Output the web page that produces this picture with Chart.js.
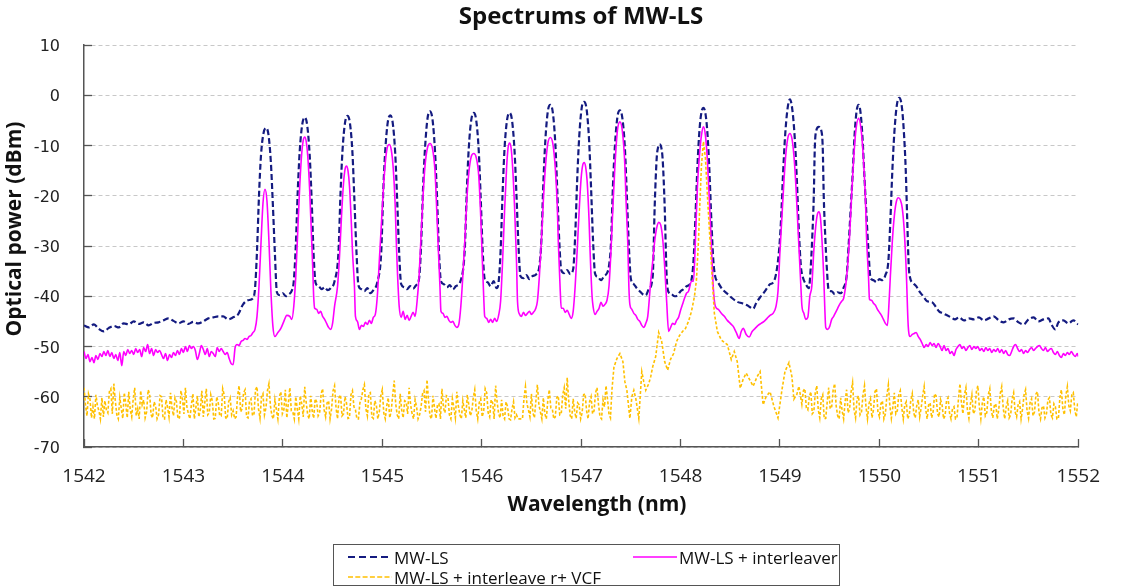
<!DOCTYPE html>
<html>
<head>
<meta charset="utf-8">
<title>Spectrums of MW-LS</title>
<script src="https://cdn.jsdelivr.net/npm/chart.js@4.4.1/dist/chart.umd.min.js"></script>
<style>
  body { margin: 0; background: #fff; }
  #wrap { position: relative; width: 1126px; height: 588px; }
  #legend {
    position: absolute; left: 333px; top: 544px; width: 505px; height: 40px;
    border: 1px solid #555; font-family: "Open Sans", sans-serif; font-size: 17px; color: #111;
  }
  .item { position: absolute; height: 20px; display: flex; align-items: center; white-space: nowrap; }
  .item svg { margin-right: 2px; }
</style>
</head>
<body>
<div id="wrap">
  <canvas id="chart" width="1126" height="588"></canvas>
  <div id="legend"></div>
</div>
<script>
// wavelength (nm), power (dBm)
const mwls = [
  [1542.00,-45.8],[1542.05,-46.2],[1542.10,-45.6],[1542.15,-46.5],[1542.20,-47.0],[1542.25,-46.3],[1542.30,-45.9],
  [1542.35,-46.2],[1542.40,-45.4],[1542.45,-45.6],[1542.50,-45.0],[1542.55,-45.5],[1542.60,-45.2],[1542.65,-45.8],
  [1542.70,-45.3],[1542.75,-45.2],[1542.80,-44.8],[1542.85,-44.4],[1542.90,-44.9],[1542.95,-45.4],[1543.00,-45.0],
  [1543.05,-45.5],[1543.10,-45.1],[1543.15,-45.4],[1543.20,-45.0],[1543.25,-44.4],[1543.30,-44.2],[1543.35,-44.0],
  [1543.40,-44.0],[1543.45,-44.6],[1543.50,-44.2],[1543.55,-43.6],[1543.60,-41.6],[1543.65,-40.8],[1543.70,-40.4],
  [1543.72,-38.5],
  [1543.74,-31.0],[1543.76,-20.0],[1543.78,-12.0],[1543.805,-7.6],[1543.83,-6.5],[1543.855,-7.8],[1543.88,-13.5],
  [1543.90,-22.0],[1543.92,-31.5],[1543.94,-39.2],
  [1543.97,-39.8],[1544.00,-39.4],[1544.03,-40.0],[1544.06,-39.6],[1544.09,-38.9],[1544.11,-37.0],
  [1544.13,-30.0],[1544.15,-19.0],[1544.17,-11.0],[1544.195,-5.8],[1544.22,-4.4],[1544.245,-6.0],[1544.27,-12.0],
  [1544.29,-21.0],[1544.31,-32.0],[1544.33,-37.4],
  [1544.36,-38.0],[1544.39,-38.6],[1544.42,-38.2],[1544.45,-38.8],[1544.48,-38.4],[1544.52,-37.0],
  [1544.56,-31.0],[1544.58,-19.5],[1544.60,-11.0],[1544.625,-5.5],[1544.65,-4.1],[1544.675,-5.6],[1544.70,-11.5],
  [1544.72,-21.0],[1544.74,-31.0],[1544.76,-37.8],
  [1544.79,-38.6],[1544.82,-39.0],[1544.85,-38.4],[1544.88,-39.4],[1544.91,-38.8],[1544.95,-37.2],
  [1544.99,-31.0],[1545.01,-19.0],[1545.03,-11.0],[1545.055,-5.4],[1545.08,-4.0],[1545.105,-5.5],[1545.13,-11.5],
  [1545.15,-21.0],[1545.17,-31.5],[1545.19,-37.6],
  [1545.22,-38.2],[1545.25,-38.6],[1545.28,-38.0],[1545.31,-38.5],[1545.34,-37.8],[1545.37,-36.5],
  [1545.39,-30.0],[1545.41,-18.5],[1545.43,-10.5],[1545.455,-4.6],[1545.48,-3.2],[1545.505,-4.8],[1545.53,-11.0],
  [1545.55,-20.0],[1545.57,-31.0],[1545.59,-37.0],
  [1545.62,-37.6],[1545.65,-38.2],[1545.68,-37.8],[1545.71,-38.6],[1545.74,-38.0],[1545.79,-36.8],
  [1545.83,-30.5],[1545.85,-19.0],[1545.87,-10.5],[1545.895,-4.9],[1545.92,-3.5],[1545.945,-5.0],[1545.97,-11.0],
  [1545.99,-20.5],[1546.01,-31.0],[1546.03,-36.6],
  [1546.06,-37.2],[1546.09,-38.0],[1546.12,-37.0],[1546.15,-38.4],[1546.17,-37.2],
  [1546.19,-31.0],[1546.21,-19.5],[1546.23,-10.5],[1546.255,-4.9],[1546.28,-3.5],[1546.305,-5.0],[1546.33,-11.0],
  [1546.35,-20.0],[1546.37,-30.0],[1546.39,-36.0],
  [1546.42,-36.4],[1546.45,-35.8],[1546.48,-36.6],[1546.51,-36.0],[1546.55,-35.6],[1546.58,-34.0],
  [1546.60,-29.0],[1546.62,-17.5],[1546.64,-9.0],[1546.665,-3.2],[1546.69,-1.9],[1546.715,-3.4],[1546.74,-9.5],
  [1546.76,-19.0],[1546.78,-29.0],[1546.80,-34.8],
  [1546.83,-35.4],[1546.86,-34.8],[1546.89,-35.6],[1546.92,-34.6],
  [1546.94,-28.0],[1546.96,-17.0],[1546.98,-8.5],[1547.005,-2.6],[1547.03,-1.3],[1547.055,-2.8],[1547.08,-9.0],
  [1547.10,-18.5],[1547.12,-29.0],[1547.14,-35.5],
  [1547.17,-36.2],[1547.20,-36.8],[1547.23,-36.0],[1547.26,-35.4],[1547.28,-34.0],
  [1547.30,-29.5],[1547.32,-18.0],[1547.34,-10.0],[1547.365,-4.3],[1547.39,-3.0],[1547.415,-4.6],[1547.44,-10.5],
  [1547.46,-20.0],[1547.48,-30.0],[1547.50,-36.5],
  [1547.53,-37.6],[1547.56,-38.4],[1547.59,-39.0],[1547.62,-39.6],[1547.65,-39.8],[1547.68,-38.6],
  [1547.72,-36.0],[1547.74,-22.0],[1547.76,-12.5],[1547.775,-10.3],[1547.79,-9.75],[1547.805,-10.3],[1547.82,-12.8],
  [1547.84,-22.0],[1547.86,-36.0],[1547.88,-39.2],
  [1547.91,-39.6],[1547.94,-40.0],[1547.97,-39.8],[1548.00,-39.0],[1548.03,-38.6],[1548.06,-38.0],[1548.10,-37.4],
  [1548.13,-33.0],[1548.15,-24.0],[1548.17,-14.0],[1548.19,-7.0],[1548.21,-3.4],[1548.23,-2.5],[1548.25,-3.6],
  [1548.27,-7.5],[1548.29,-15.0],[1548.31,-25.0],[1548.33,-33.0],[1548.35,-36.2],
  [1548.37,-37.0],[1548.42,-38.6],[1548.47,-39.5],[1548.52,-40.4],[1548.57,-41.1],[1548.62,-41.4],[1548.67,-41.8],
  [1548.70,-42.2],[1548.73,-42.5],[1548.76,-41.4],[1548.80,-40.2],[1548.83,-39.5],[1548.87,-38.4],[1548.90,-37.6],
  [1548.93,-37.3],[1548.96,-35.6],
  [1548.99,-31.0],[1549.01,-25.0],[1549.03,-16.0],[1549.05,-8.5],[1549.075,-2.8],[1549.10,-0.8],[1549.125,-3.0],
  [1549.15,-9.0],[1549.17,-17.0],[1549.19,-27.0],[1549.21,-34.0],[1549.23,-36.2],
  [1549.26,-37.6],[1549.29,-38.4],
  [1549.31,-34.0],[1549.325,-28.0],[1549.34,-20.0],[1549.35,-10.5],[1549.365,-7.0],[1549.39,-6.3],[1549.415,-7.0],
  [1549.43,-10.5],[1549.44,-20.0],[1549.455,-28.0],[1549.47,-34.0],[1549.49,-38.8],
  [1549.52,-39.0],[1549.55,-39.6],[1549.58,-39.2],[1549.61,-39.4],[1549.64,-38.3],
  [1549.67,-36.0],[1549.69,-30.0],[1549.71,-23.0],[1549.73,-16.0],[1549.75,-8.0],[1549.77,-3.2],[1549.79,-1.9],
  [1549.81,-3.4],[1549.83,-8.5],[1549.85,-16.5],[1549.87,-24.0],[1549.89,-31.0],[1549.91,-36.3],
  [1549.94,-36.8],[1549.97,-37.2],[1550.00,-36.6],[1550.03,-36.8],[1550.06,-35.8],
  [1550.09,-33.0],[1550.11,-25.0],[1550.13,-15.0],[1550.15,-7.5],[1550.175,-2.0],[1550.20,-0.5],[1550.225,-2.2],
  [1550.245,-7.0],[1550.265,-15.0],[1550.28,-25.0],[1550.295,-34.0],[1550.31,-36.4],
  [1550.34,-37.4],[1550.37,-38.0],[1550.40,-39.0],[1550.44,-40.0],[1550.48,-41.0],[1550.53,-41.2],[1550.57,-42.2],
  [1550.60,-43.0],[1550.64,-43.4],[1550.68,-43.8],[1550.72,-44.2],[1550.76,-44.6],[1550.80,-44.2],[1550.85,-44.8],
  [1550.90,-44.4],[1550.95,-44.6],[1551.00,-44.2],[1551.05,-44.8],[1551.10,-44.4],[1551.15,-44.0],[1551.20,-44.8],
  [1551.25,-45.2],[1551.30,-44.6],[1551.35,-44.4],[1551.40,-45.2],[1551.45,-45.6],[1551.50,-44.6],[1551.55,-44.2],
  [1551.60,-45.0],[1551.65,-44.6],[1551.70,-44.4],[1551.73,-45.6],[1551.77,-46.6],[1551.80,-45.2],[1551.85,-44.8],
  [1551.90,-45.4],[1551.95,-44.8],[1552.00,-45.6]
];

const mwlsIl = [
  [1542.00,-51.0],[1542.02,-52.4],[1542.04,-51.6],[1542.06,-53.0],[1542.08,-52.2],[1542.10,-53.2],[1542.12,-51.8],
  [1542.14,-52.6],[1542.16,-51.4],[1542.18,-52.0],[1542.20,-51.0],[1542.22,-51.8],[1542.24,-50.8],[1542.26,-52.0],
  [1542.28,-51.2],[1542.30,-52.4],[1542.32,-51.6],[1542.34,-52.8],[1542.36,-51.2],[1542.38,-53.8],[1542.40,-51.0],
  [1542.42,-51.8],[1542.44,-50.6],[1542.46,-51.4],[1542.48,-50.8],[1542.50,-51.6],[1542.52,-50.4],[1542.54,-51.2],
  [1542.56,-50.6],[1542.58,-52.0],[1542.60,-50.2],[1542.62,-51.0],[1542.64,-49.6],[1542.66,-51.4],[1542.68,-50.4],
  [1542.70,-51.8],[1542.72,-50.6],[1542.74,-51.2],[1542.76,-50.8],[1542.78,-51.6],[1542.80,-52.4],[1542.82,-51.4],
  [1542.84,-52.8],[1542.86,-51.6],[1542.88,-52.2],[1542.90,-51.2],[1542.92,-51.8],[1542.94,-50.8],[1542.96,-51.6],
  [1542.98,-50.4],[1543.00,-51.2],[1543.02,-50.0],[1543.04,-51.0],[1543.06,-49.8],[1543.08,-50.4],[1543.10,-50.0],
  [1543.12,-50.8],[1543.14,-52.6],[1543.16,-51.4],[1543.18,-49.8],[1543.20,-50.6],[1543.22,-51.6],[1543.24,-50.4],
  [1543.26,-52.0],[1543.28,-51.0],[1543.30,-51.4],[1543.32,-52.0],[1543.34,-50.2],[1543.36,-51.0],[1543.38,-50.4],
  [1543.40,-51.0],[1543.42,-51.6],[1543.44,-51.2],[1543.46,-52.4],[1543.48,-53.4],[1543.50,-53.6],[1543.52,-50.2],
  [1543.54,-49.6],[1543.56,-49.8],[1543.58,-49.0],[1543.60,-48.8],[1543.62,-48.4],[1543.64,-48.6],[1543.66,-48.0],
  [1543.68,-47.8],[1543.70,-47.2],[1543.72,-46.6],
  [1543.74,-44.0],[1543.76,-38.0],[1543.78,-29.5],[1543.80,-21.5],[1543.82,-18.7],[1543.84,-21.0],[1543.86,-29.0],
  [1543.88,-39.0],[1543.90,-46.0],[1543.92,-48.0],
  [1543.95,-47.2],[1543.98,-46.4],[1544.01,-45.0],[1544.04,-43.8],[1544.07,-44.0],[1544.09,-44.6],[1544.11,-42.0],
  [1544.13,-36.0],[1544.15,-27.0],[1544.17,-18.0],[1544.19,-11.5],[1544.205,-9.0],[1544.22,-8.3],[1544.235,-9.2],
  [1544.25,-12.0],[1544.27,-19.0],[1544.29,-29.0],[1544.30,-34.0],[1544.31,-40.0],[1544.32,-42.4],
  [1544.34,-42.6],[1544.36,-43.4],[1544.38,-43.0],[1544.40,-44.0],[1544.42,-44.6],[1544.44,-45.4],[1544.46,-46.2],
  [1544.48,-46.6],[1544.50,-45.4],[1544.52,-42.0],
  [1544.55,-38.0],[1544.57,-32.0],[1544.59,-24.0],[1544.61,-17.5],[1544.625,-14.8],[1544.64,-14.1],[1544.655,-15.0],
  [1544.67,-18.0],[1544.69,-26.0],[1544.70,-31.0],[1544.72,-38.0],[1544.73,-44.0],
  [1544.75,-45.0],[1544.77,-46.6],[1544.79,-45.8],[1544.81,-46.0],[1544.83,-45.2],[1544.85,-45.6],[1544.87,-44.8],
  [1544.89,-45.4],[1544.91,-44.2],[1544.93,-43.6],[1544.95,-40.0],
  [1544.97,-33.0],[1544.99,-26.0],[1545.01,-19.0],[1545.03,-13.5],[1545.05,-10.4],[1545.07,-9.8],[1545.09,-10.8],
  [1545.11,-14.5],[1545.13,-22.0],[1545.14,-28.5],[1545.15,-34.0],[1545.17,-42.0],
  [1545.19,-44.2],[1545.21,-43.0],[1545.23,-44.6],[1545.25,-43.8],[1545.27,-44.8],[1545.29,-44.0],[1545.31,-43.2],
  [1545.33,-44.0],[1545.35,-41.0],
  [1545.37,-36.0],[1545.39,-28.0],[1545.41,-20.0],[1545.43,-14.0],[1545.455,-10.4],[1545.48,-9.6],[1545.505,-10.6],
  [1545.53,-15.0],[1545.55,-24.0],[1545.56,-29.0],[1545.58,-38.0],[1545.59,-43.0],
  [1545.61,-43.4],[1545.63,-44.2],[1545.65,-44.0],[1545.67,-44.8],[1545.69,-45.2],[1545.71,-45.0],[1545.73,-45.8],
  [1545.75,-46.2],[1545.77,-45.6],[1545.79,-42.0],
  [1545.81,-36.0],[1545.83,-29.0],[1545.85,-21.0],[1545.87,-15.5],[1545.895,-12.2],[1545.92,-11.6],[1545.945,-12.4],
  [1545.97,-16.0],[1545.99,-24.0],[1546.00,-29.5],[1546.02,-40.0],[1546.03,-44.0],
  [1546.05,-44.4],[1546.07,-45.2],[1546.09,-44.6],[1546.11,-45.2],[1546.13,-44.4],[1546.15,-45.0],[1546.17,-43.8],
  [1546.19,-41.0],
  [1546.21,-33.0],[1546.23,-23.0],[1546.25,-14.5],[1546.265,-10.5],[1546.28,-9.5],[1546.295,-10.4],[1546.31,-14.0],
  [1546.33,-22.0],[1546.35,-33.0],[1546.36,-41.0],
  [1546.38,-43.6],[1546.40,-44.0],[1546.42,-43.2],[1546.44,-43.8],[1546.46,-43.4],[1546.48,-43.0],[1546.50,-43.6],
  [1546.52,-43.2],[1546.54,-42.6],[1546.56,-41.0],
  [1546.58,-36.0],[1546.60,-29.0],[1546.62,-21.0],[1546.64,-14.5],[1546.665,-9.6],[1546.69,-8.4],[1546.715,-9.6],
  [1546.74,-14.5],[1546.76,-22.0],[1546.77,-29.0],[1546.79,-39.0],[1546.80,-42.4],
  [1546.82,-42.4],[1546.84,-43.2],[1546.86,-42.8],[1546.88,-43.6],[1546.90,-44.4],[1546.92,-43.0],[1546.94,-38.0],
  [1546.96,-31.0],[1546.98,-23.0],[1547.00,-16.5],[1547.015,-14.0],[1547.03,-13.4],[1547.045,-14.2],[1547.06,-17.0],
  [1547.08,-25.0],[1547.09,-31.0],[1547.11,-40.0],[1547.12,-42.0],
  [1547.14,-43.6],[1547.16,-43.0],[1547.18,-42.4],[1547.20,-41.2],[1547.22,-42.0],[1547.24,-41.6],[1547.26,-40.8],
  [1547.28,-38.0],
  [1547.30,-31.0],[1547.32,-22.0],[1547.34,-14.0],[1547.365,-7.0],[1547.39,-5.3],[1547.415,-7.2],[1547.44,-14.0],
  [1547.45,-20.0],[1547.47,-30.0],[1547.48,-38.0],[1547.49,-41.6],
  [1547.51,-42.6],[1547.53,-43.4],[1547.55,-43.8],[1547.57,-44.6],[1547.59,-45.0],[1547.61,-45.8],[1547.63,-46.2],
  [1547.65,-45.4],[1547.67,-44.0],
  [1547.70,-37.0],[1547.72,-33.0],[1547.74,-29.0],[1547.76,-26.4],[1547.78,-25.3],[1547.80,-25.8],[1547.82,-28.5],
  [1547.84,-34.0],[1547.86,-41.0],[1547.88,-47.0],
  [1547.90,-46.2],[1547.92,-45.4],[1547.94,-45.6],[1547.96,-44.8],[1547.98,-44.2],[1548.00,-42.8],[1548.02,-41.6],
  [1548.04,-40.4],[1548.06,-39.4],[1548.08,-39.0],[1548.11,-37.0],
  [1548.13,-37.0],[1548.15,-28.5],[1548.17,-18.0],[1548.19,-12.0],[1548.21,-8.0],[1548.23,-6.3],[1548.25,-8.0],
  [1548.27,-13.0],[1548.29,-21.0],[1548.31,-30.0],[1548.33,-38.5],[1548.35,-42.0],
  [1548.38,-42.6],[1548.41,-43.4],[1548.44,-44.0],[1548.47,-44.8],[1548.50,-45.4],[1548.53,-46.0],[1548.56,-47.2],
  [1548.59,-48.4],[1548.61,-47.0],[1548.63,-46.4],[1548.66,-47.6],[1548.69,-48.1],[1548.72,-47.0],[1548.75,-46.4],
  [1548.78,-45.8],[1548.81,-45.4],[1548.84,-45.0],[1548.87,-44.4],[1548.90,-43.8],[1548.93,-43.4],[1548.96,-42.0],
  [1548.98,-39.0],[1549.00,-31.0],[1549.02,-24.0],[1549.04,-17.0],[1549.06,-11.5],[1549.08,-8.4],[1549.10,-7.6],
  [1549.12,-8.6],[1549.14,-12.0],[1549.16,-18.0],[1549.18,-26.0],[1549.19,-30.0],[1549.21,-38.0],[1549.22,-41.8],
  [1549.24,-43.4],[1549.26,-44.6],[1549.28,-44.2],[1549.30,-40.0],
  [1549.32,-38.0],[1549.34,-31.0],[1549.36,-26.0],[1549.375,-23.8],[1549.39,-23.2],[1549.405,-24.0],[1549.42,-28.0],
  [1549.44,-36.0],[1549.45,-42.0],[1549.46,-46.2],
  [1549.48,-46.6],[1549.50,-46.0],[1549.52,-44.6],[1549.54,-44.0],[1549.56,-43.2],[1549.58,-42.4],[1549.60,-41.6],
  [1549.62,-41.0],[1549.64,-40.4],[1549.66,-38.0],
  [1549.68,-34.0],[1549.70,-28.0],[1549.72,-20.0],[1549.74,-13.0],[1549.76,-7.6],[1549.79,-4.6],[1549.82,-7.6],
  [1549.84,-13.0],[1549.86,-21.0],[1549.87,-28.0],[1549.89,-36.0],[1549.90,-40.6],
  [1549.92,-40.8],[1549.94,-41.4],[1549.96,-41.8],[1549.98,-42.6],[1550.00,-43.2],[1550.02,-43.8],[1550.04,-44.6],
  [1550.06,-45.4],[1550.08,-45.8],[1550.10,-40.0],
  [1550.11,-36.0],[1550.13,-29.0],[1550.15,-24.0],[1550.17,-21.2],[1550.19,-20.4],[1550.21,-20.8],[1550.23,-22.5],
  [1550.25,-27.0],[1550.27,-35.0],[1550.29,-46.0],
  [1550.31,-48.0],[1550.33,-47.6],[1550.35,-47.4],[1550.37,-47.2],[1550.39,-48.0],[1550.41,-48.6],[1550.43,-49.4],
  [1550.45,-50.2],[1550.47,-49.6],[1550.49,-50.0],[1550.51,-49.2],[1550.53,-49.8],[1550.55,-49.4],[1550.57,-50.2],
  [1550.59,-49.4],[1550.61,-50.0],[1550.63,-50.8],[1550.65,-49.8],[1550.67,-50.8],[1550.69,-50.4],[1550.71,-51.4],
  [1550.73,-51.0],[1550.75,-51.8],[1550.77,-50.6],[1550.79,-50.0],[1550.81,-49.6],[1550.83,-50.4],[1550.85,-50.0],
  [1550.87,-50.8],[1550.89,-50.2],[1550.91,-49.8],[1550.93,-50.6],[1550.95,-50.0],[1550.97,-50.4],[1550.99,-50.0],
  [1551.01,-50.8],[1551.03,-50.4],[1551.05,-51.0],[1551.07,-50.2],[1551.09,-50.8],[1551.11,-50.4],[1551.13,-51.2],
  [1551.15,-50.6],[1551.17,-51.0],[1551.19,-50.4],[1551.21,-51.2],[1551.23,-50.6],[1551.25,-51.4],[1551.27,-50.8],
  [1551.29,-51.6],[1551.31,-51.8],[1551.33,-51.0],[1551.35,-50.0],[1551.37,-49.6],[1551.39,-50.4],[1551.41,-51.0],
  [1551.43,-50.6],[1551.45,-51.4],[1551.47,-50.8],[1551.49,-51.2],[1551.51,-50.6],[1551.53,-50.2],[1551.55,-50.8],
  [1551.57,-50.4],[1551.59,-50.0],[1551.61,-49.8],[1551.63,-50.4],[1551.65,-50.8],[1551.67,-50.2],[1551.69,-51.0],
  [1551.71,-50.6],[1551.73,-50.4],[1551.75,-51.2],[1551.77,-51.6],[1551.79,-51.0],[1551.81,-51.8],[1551.83,-52.2],
  [1551.85,-51.4],[1551.87,-51.8],[1551.89,-51.2],[1551.91,-51.6],[1551.93,-51.0],[1551.95,-51.6],[1551.97,-52.0],
  [1551.99,-51.4],[1552.00,-52.0]
];

// VCF trace: noise floor sampled every 0.015 nm on both sides, filtered lines in between
const vcfStepNm = 0.015;
const vcfLeftStartNm = 1542.00;
const vcfLeftDbm = [
  -58.2,-61.6,-63.8,-59.4,-60.4,-64.2,-62.0,-64.4,-59.6,-61.8,-62.8,-64.4,-60.2,-64.0,-60.8,-62.6,-63.2,-59.0,-58.4,-63.4,
  -57.4,-60.8,-63.6,-64.4,-60.2,-62.4,-64.3,-59.2,-61.4,-64.2,-59.0,-62.6,-64.0,-60.4,-58.2,-63.8,-62.4,-64.4,-58.8,-61.6,
  -60.6,-64.2,-63.0,-58.6,-59.4,-63.6,-64.2,-61.0,-61.8,-64.4,-63.6,-59.8,-60.0,-64.3,-64.4,-60.6,-62.0,-64.0,-59.2,-62.2,
  -63.8,-60.2,-61.0,-64.4,-64.2,-58.8,-60.4,-63.4,-58.2,-62.0,-63.4,-64.4,-61.6,-59.4,-64.4,-62.2,-59.8,-64.0,-62.6,-58.8,
  -64.0,-61.2,-58.4,-63.6,-63.2,-59.6,-60.8,-64.4,-64.3,-60.0,-61.2,-63.8,-63.8,-58.4,-59.6,-64.2,-64.4,-61.0,-60.2,-63.6,
  -62.8,-64.4,-64.0,-59.8,-57.8,-63.0,-62.4,-59.2,-58.6,-64.0,-64.2,-60.8,-60.4,-63.8,-63.4,-58.6,-58.0,-62.4,-64.3,-60.0,
  -59.4,-63.6,-62.2,-58.8,-57.4,-61.8,-63.8,-64.4,-60.6,-62.6,-64.4,-60.0,-59.0,-63.4,-62.6,-58.6,-64.2,-61.4,-58.2,-62.8,
  -63.0,-64.4,-60.0,-62.4,-64.4,-59.8,-61.4,-64.0,-58.0,-61.2,-63.6,-64.4,-59.8,-62.8,-64.3,-60.4,-61.0,-63.8,-63.2,-59.4,
  -58.4,-62.6,-64.0,-61.2,-60.8,-64.4,-62.4,-58.8,-57.8,-62.2,-64.4,-60.2,-59.6,-63.8,-63.4,-60.0,-61.2,-64.3,-64.2,-59.6,
  -58.8,-62.0,-62.6,-64.4,-64.4,-61.2,-60.4,-58.6,-57.6,-62.4,-63.8,-59.4,-59.2,-64.0,-64.3,-60.8,-61.6,-64.4,-63.0,-59.8,
  -58.6,-63.2,-64.4,-61.8,-60.2,-64.2,-62.8,-59.6,-56.8,-61.4,-63.6,-64.4,-59.4,-62.6,-64.2,-60.8,-61.0,-63.4,-58.2,-61.6,
  -63.4,-64.4,-60.6,-62.0,-64.4,-63.6,-62.0,-59.4,-58.8,-63.0,-56.6,-60.8,-63.8,-64.4,-59.8,-62.2,-64.3,-61.6,-61.4,-64.4,
  -58.4,-62.2,-63.2,-59.8,-60.0,-63.6,-64.4,-60.4,-62.2,-64.2,-59.0,-61.8,-63.6,-64.4,-60.8,-62.6,-64.2,-59.6,-61.6,-63.8,
  -63.0,-60.2,-58.6,-62.8,-64.4,-61.2,-60.4,-64.0,-62.8,-58.4,-59.2,-63.2,-64.0,-60.6,-61.2,-64.4,-57.8,-61.0,-63.4,-64.2,
  -60.6,-63.8,-64.4,-61.0,-62.0,-64.4,-64.6,-62.4,-61.0,-64.2,-63.6,-64.4,-64.4,-64.4,-64.4,-60.4,-58.0,-61.4,-62.6,-64.0,
  -59.4,-63.2,-64.2,-60.8,-57.6,-61.6,-63.0,-64.4,-60.2,-63.4,-64.4,-60.6,-58.6,-62.2,-62.4,-64.4,-64.0,-60.2,-59.8,-63.6,
  -63.4,-59.6,-58.2,-62.4,-56.2,-60.8,-63.8,-64.4,-60.4,-63.0,-64.3,-61.2,-61.6,-64.4,-63.2,-59.6,-59.4,-62.8,-64.4,-61.0,
  -60.0,-63.4,-62.8,-59.2,-58.2,-61.6,-64.0,-64.4,-60.6,-62.0,-57.8,-60.4,-63.4,-64.2,-58.6
];
const vcfCenter = [
  [1547.33,-54.1],[1547.36,-52.4],[1547.39,-51.4],[1547.42,-53.0],[1547.44,-57.0],[1547.46,-58.7],[1547.49,-64.3],
  [1547.51,-60.0],[1547.53,-58.7],[1547.55,-60.4],[1547.58,-64.3],[1547.61,-55.0],[1547.63,-57.0],[1547.65,-58.7],
  [1547.68,-57.4],[1547.70,-56.0],[1547.72,-54.0],[1547.75,-52.0],[1547.78,-47.2],[1547.81,-49.0],[1547.84,-53.0],
  [1547.87,-54.7],[1547.90,-52.5],[1547.93,-51.4],[1547.96,-49.0],[1547.99,-47.8],[1548.02,-47.0],[1548.05,-46.4],
  [1548.08,-45.0],[1548.11,-43.0],[1548.14,-40.0],[1548.16,-36.7],[1548.18,-29.0],[1548.19,-23.5],[1548.21,-14.0],
  [1548.23,-9.2],[1548.25,-12.5],[1548.27,-20.0],[1548.30,-30.2],[1548.32,-37.0],[1548.34,-43.4],[1548.37,-47.0],
  [1548.41,-48.7],[1548.44,-49.2],[1548.47,-49.6],[1548.51,-52.6],[1548.54,-51.0],[1548.57,-53.0],[1548.60,-58.3],
  [1548.63,-56.5],[1548.66,-55.3],[1548.70,-56.8],[1548.73,-57.9],[1548.77,-56.0],[1548.80,-55.0],[1548.83,-61.6],
  [1548.86,-60.0],[1548.90,-59.0],[1548.94,-62.0],[1548.98,-64.2],[1549.02,-58.6],[1549.05,-55.0],[1549.09,-53.2],
  [1549.12,-56.0],[1549.14,-60.5],[1549.17,-59.5],[1549.19,-57.9]
];
const vcfRightStartNm = 1549.22;
const vcfRightDbm = [
  -61.5,-58.8,-58.4,-62.2,-62.6,-60.0,-59.0,-63.4,-63.0,-59.2,-57.8,-62.6,-64.2,-60.4,-59.6,-64.4,-64.3,-61.0,-58.2,-62.4,
  -62.0,-58.6,-57.4,-61.8,-63.8,-64.4,-60.2,-62.8,-64.4,-61.0,-58.6,-63.2,-62.4,-59.0,-57.2,-62.6,-64.2,-60.4,-59.8,-63.6,
  -63.0,-59.6,-57.8,-62.0,-64.4,-61.4,-60.4,-64.2,-62.6,-59.0,-58.4,-63.0,-64.0,-61.4,-60.8,-64.4,-63.4,-59.8,-57.6,-61.8,
  -64.3,-62.0,-59.2,-63.4,-62.8,-59.6,-58.8,-62.2,-64.4,-61.6,-61.0,-64.4,-63.6,-60.8,-59.4,-63.2,-64.2,-61.8,-60.6,-64.0,
  -62.2,-59.8,-58.0,-62.4,-64.4,-61.6,-61.2,-64.2,-63.0,-59.4,-59.8,-63.4,-64.0,-60.6,-61.6,-64.4,-63.8,-60.8,-60.2,-63.2,
  -64.4,-62.4,-62.0,-64.4,-64.2,-60.4,-57.4,-61.2,-63.4,-59.6,-58.2,-62.6,-64.3,-61.4,-59.6,-63.4,-62.8,-59.0,-57.8,-62.0,
  -64.4,-61.2,-60.0,-63.8,-63.2,-59.6,-58.4,-62.6,-64.2,-61.8,-61.4,-64.4,-62.6,-59.4,-58.0,-62.2,-64.4,-62.0,-60.8,-64.2,
  -63.6,-60.4,-59.2,-63.0,-64.0,-61.6,-61.0,-64.4,-62.4,-59.6,-58.6,-62.8,-64.3,-61.2,-60.4,-63.8,-63.0,-59.4,-59.0,-63.2,
  -64.4,-62.2,-61.8,-64.2,-63.4,-60.6,-60.2,-63.6,-64.2,-61.4,-62.0,-64.4,-64.4,-60.2,-58.6,-62.4,-63.6,-59.8,-58.0,-61.8,
  -62.8,-59.6,-59.2,-62.6,-64.0,-61.0
];

const nmTicks = [1542, 1543, 1544, 1545, 1546, 1547, 1548, 1549, 1550, 1551, 1552];
const dbmTicks = [10, 0, -10, -20, -30, -40, -50, -60, -70];
const seriesNames = ['MW-LS', 'MW-LS + interleaver', 'MW-LS + interleave r+ VCF'];

const chartTitle = 'Spectrums of MW-LS';
const xTitle = 'Wavelength (nm)';
const yTitle = 'Optical power (dBm)';

const navy = '#141b80';
const magenta = '#ff00ff';
const gold = '#ffc000';

function toXY(pairs) {
    return pairs.map(p => ({ x: p[0], y: p[1] }))
}

function sweep(startNm, values) {
    return values.map((v, i) => ({ x: +(startNm + i * vcfStepNm).toFixed(3), y: v }))
}

const vcfPoints = sweep(vcfLeftStartNm, vcfLeftDbm)
    .concat(toXY(vcfCenter))
    .concat(sweep(vcfRightStartNm, vcfRightDbm))

// chart and axis titles, placed by hand
const titlesPlugin = {
    id: 'titles',
    afterDraw(chart) {
        const ctx = chart.ctx
        ctx.save()
        ctx.fillStyle = '#111'
        ctx.textAlign = 'center'
        ctx.textBaseline = 'alphabetic'
        ctx.font = 'bold 24px "Open Sans", sans-serif'
        ctx.fillText(chartTitle, 581, 24)
        ctx.font = 'bold 21px "Open Sans", sans-serif'
        ctx.fillText(xTitle, 597, 511)
        ctx.translate(21, 229)
        ctx.rotate(-Math.PI / 2)
        ctx.fillText(yTitle, 0, 0)
        ctx.restore()
    }
}

new Chart(document.getElementById('chart'), {
    type: 'line',
    data: {
        datasets: [{
            label: seriesNames[2],
            data: vcfPoints,
            borderColor: gold,
            borderWidth: 1.6,
            borderDash: [3, 2],
            order: 1
        }, {
            label: seriesNames[1],
            data: toXY(mwlsIl),
            borderColor: magenta,
            borderWidth: 1.6,
            cubicInterpolationMode: 'monotone',
            order: 2
        }, {
            label: seriesNames[0],
            data: toXY(mwls),
            borderColor: navy,
            borderWidth: 2.2,
            borderDash: [6, 3],
            cubicInterpolationMode: 'monotone',
            order: 3
        }]
    },
    options: {
        responsive: false,
        animation: false,
        elements: { point: { radius: 0 } },
        layout: { padding: { left: 0, right: 23, top: 45, bottom: 0 } },
        plugins: {
            legend: { display: false },
            title: { display: false },
            tooltip: { enabled: false }
        },
        scales: {
            x: {
                type: 'linear',
                min: 1542,
                max: 1552,
                afterBuildTicks: s => { s.ticks = nmTicks.map(v => ({ value: v })) },
                afterFit: s => { s.height = 141 },
                ticks: {
                    callback: v => String(v),
                    font: { family: '"Open Sans", sans-serif', size: 19 },
                    color: '#222',
                    padding: 26,
                    maxRotation: 0,
                    autoSkip: false
                },
                grid: { drawOnChartArea: false, drawTicks: true, tickLength: -8, tickColor: '#555', tickWidth: 1.3 },
                border: { color: '#555', width: 1.5 }
            },
            y: {
                min: -70,
                max: 10,
                afterBuildTicks: s => { s.ticks = dbmTicks.map(v => ({ value: v })) },
                afterFit: s => { s.width = 84 },
                ticks: {
                    callback: v => String(v),
                    font: { family: '"DejaVu Sans", sans-serif', size: 16 },
                    color: '#222',
                    padding: 32,
                    labelOffset: 2
                },
                grid: { color: '#c8c8c8', lineWidth: 1, tickLength: -8, tickColor: '#555', tickWidth: 1.3 },
                border: { color: '#555', width: 1.5, dash: [4, 3] }
            }
        }
    },
    plugins: [titlesPlugin]
})

// legend box under the chart
const legendItems = [
    { name: seriesNames[0], color: navy, dash: '7 4', width: 2, left: 14, top: 2 },
    { name: seriesNames[1], color: magenta, dash: '', width: 1.6, left: 299, top: 2 },
    { name: seriesNames[2], color: gold, dash: '5 2.3', width: 1.6, left: 14, top: 22 }
]
const legend = document.getElementById('legend')
legendItems.forEach(it => {
    const div = document.createElement('div')
    div.className = 'item'
    div.style.left = it.left + 'px'
    div.style.top = it.top + 'px'
    div.innerHTML = `<svg width="44" height="6"><line x1="0" y1="3" x2="44" y2="3" stroke="` + it.color +
        `" stroke-width="` + it.width + `" stroke-dasharray="` + it.dash + `"/></svg><span>` + it.name + `</span>`
    legend.appendChild(div)
})
</script>
</body>
</html>
